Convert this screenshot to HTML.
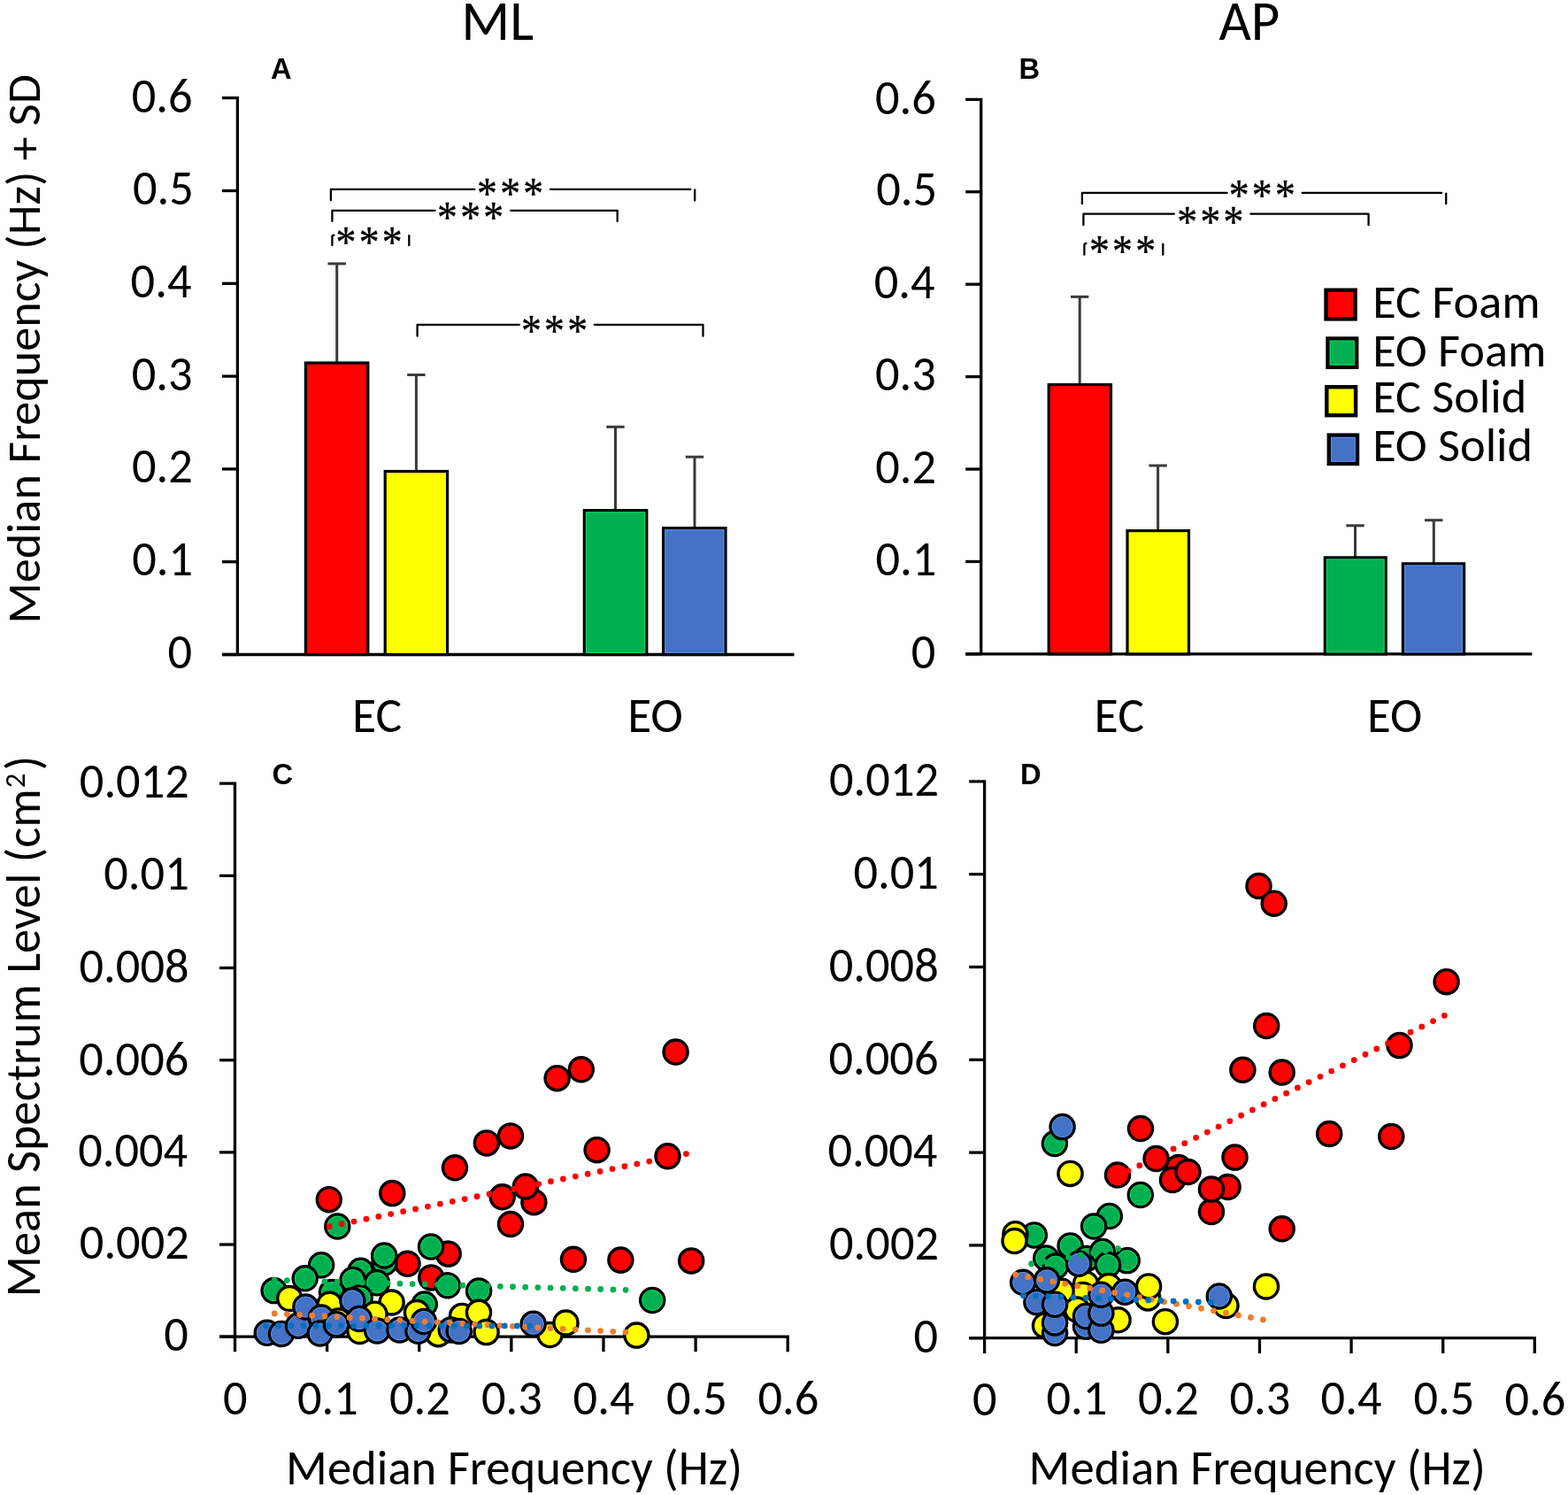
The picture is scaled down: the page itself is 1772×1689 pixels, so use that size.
<!DOCTYPE html>
<html><head><meta charset="utf-8"><title>Median frequency and mean spectrum level</title>
<style>html,body{margin:0;padding:0;background:#fff;overflow:hidden}svg{display:block}</style></head>
<body>
<svg width="1772" height="1689" viewBox="0 0 1772 1689">
<rect width="1772" height="1689" fill="#fff"/>
<defs>
<g id="mr"><circle r="13.55" fill="#FF0000" stroke="#000" stroke-width="3.4"/></g>
<g id="mg"><circle r="13.55" fill="#00B050" stroke="#000" stroke-width="3.4"/><circle r="11.45" fill="none" stroke="#00E060" stroke-width="1"/></g>
<g id="my"><circle r="13.55" fill="#FFFF00" stroke="#000" stroke-width="3.4"/></g>
<g id="mb"><circle r="13.55" fill="#4472C4" stroke="#000" stroke-width="3.4"/><circle r="11.45" fill="none" stroke="#5E93F0" stroke-width="1"/></g>
</defs>
<path d="M251 110.7H268.4V739.5" fill="none" stroke="#000" stroke-width="3.3" stroke-linejoin="miter"/>
<line x1="251" y1="739.5" x2="268.4" y2="739.5" stroke="#000" stroke-width="3.3"/>
<line x1="251" y1="634.7" x2="268.4" y2="634.7" stroke="#000" stroke-width="3.3"/>
<line x1="251" y1="529.9" x2="268.4" y2="529.9" stroke="#000" stroke-width="3.3"/>
<line x1="251" y1="425.1" x2="268.4" y2="425.1" stroke="#000" stroke-width="3.3"/>
<line x1="251" y1="320.3" x2="268.4" y2="320.3" stroke="#000" stroke-width="3.3"/>
<line x1="251" y1="215.5" x2="268.4" y2="215.5" stroke="#000" stroke-width="3.3"/>
<line x1="251" y1="739.5" x2="897.5" y2="739.5" stroke="#000" stroke-width="3.3"/>
<line x1="380.7" y1="410" x2="380.7" y2="297.9" stroke="#3A3A3A" stroke-width="3"/>
<line x1="370.5" y1="297.9" x2="390.9" y2="297.9" stroke="#3A3A3A" stroke-width="3"/>
<rect x="345.4" y="410" width="70.4" height="329.5" fill="#FF0000" stroke="#000" stroke-width="3.2"/>
<line x1="470.4" y1="532.5" x2="470.4" y2="423.5" stroke="#3A3A3A" stroke-width="3"/>
<line x1="460.2" y1="423.5" x2="480.6" y2="423.5" stroke="#3A3A3A" stroke-width="3"/>
<rect x="435.2" y="532.5" width="70.4" height="207" fill="#FFFF00" stroke="#000" stroke-width="3.2"/>
<line x1="695.5" y1="576.6" x2="695.5" y2="482.3" stroke="#3A3A3A" stroke-width="3"/>
<line x1="685.3" y1="482.3" x2="705.7" y2="482.3" stroke="#3A3A3A" stroke-width="3"/>
<rect x="660.3" y="576.6" width="70.5" height="162.9" fill="#00B050" stroke="#000" stroke-width="3.2"/>
<rect x="662.4" y="578.7" width="66.3" height="158.7" fill="none" stroke="#00DC64" stroke-width="1"/>
<line x1="785" y1="596.6" x2="785" y2="516.2" stroke="#3A3A3A" stroke-width="3"/>
<line x1="774.8" y1="516.2" x2="795.2" y2="516.2" stroke="#3A3A3A" stroke-width="3"/>
<rect x="749.6" y="596.6" width="70.4" height="142.9" fill="#4472C4" stroke="#000" stroke-width="3.2"/>
<rect x="751.7" y="598.7" width="66.2" height="138.7" fill="none" stroke="#5A8EEC" stroke-width="1"/>
<path d="M1091.2 112.3H1108.7V738.9" fill="none" stroke="#000" stroke-width="3.3" stroke-linejoin="miter"/>
<line x1="1091.2" y1="738.9" x2="1108.7" y2="738.9" stroke="#000" stroke-width="3.3"/>
<line x1="1091.2" y1="634.47" x2="1108.7" y2="634.47" stroke="#000" stroke-width="3.3"/>
<line x1="1091.2" y1="530.03" x2="1108.7" y2="530.03" stroke="#000" stroke-width="3.3"/>
<line x1="1091.2" y1="425.6" x2="1108.7" y2="425.6" stroke="#000" stroke-width="3.3"/>
<line x1="1091.2" y1="321.17" x2="1108.7" y2="321.17" stroke="#000" stroke-width="3.3"/>
<line x1="1091.2" y1="216.73" x2="1108.7" y2="216.73" stroke="#000" stroke-width="3.3"/>
<line x1="1091.2" y1="738.9" x2="1731.4" y2="738.9" stroke="#000" stroke-width="3.3"/>
<line x1="1220.2" y1="434.6" x2="1220.2" y2="335.3" stroke="#3A3A3A" stroke-width="3"/>
<line x1="1210" y1="335.3" x2="1230.4" y2="335.3" stroke="#3A3A3A" stroke-width="3"/>
<rect x="1185.2" y="434.6" width="70.3" height="304.3" fill="#FF0000" stroke="#000" stroke-width="3.2"/>
<line x1="1308.6" y1="599.6" x2="1308.6" y2="526" stroke="#3A3A3A" stroke-width="3"/>
<line x1="1298.4" y1="526" x2="1318.8" y2="526" stroke="#3A3A3A" stroke-width="3"/>
<rect x="1274" y="599.6" width="69.5" height="139.3" fill="#FFFF00" stroke="#000" stroke-width="3.2"/>
<line x1="1531.5" y1="629.9" x2="1531.5" y2="593.8" stroke="#3A3A3A" stroke-width="3"/>
<line x1="1521.3" y1="593.8" x2="1541.7" y2="593.8" stroke="#3A3A3A" stroke-width="3"/>
<rect x="1497.3" y="629.9" width="68.9" height="109" fill="#00B050" stroke="#000" stroke-width="3.2"/>
<rect x="1499.4" y="632" width="64.7" height="104.8" fill="none" stroke="#00DC64" stroke-width="1"/>
<line x1="1620.3" y1="636.8" x2="1620.3" y2="587.7" stroke="#3A3A3A" stroke-width="3"/>
<line x1="1610.1" y1="587.7" x2="1630.5" y2="587.7" stroke="#3A3A3A" stroke-width="3"/>
<rect x="1585.4" y="636.8" width="69.2" height="102.1" fill="#4472C4" stroke="#000" stroke-width="3.2"/>
<rect x="1587.5" y="638.9" width="65" height="97.9" fill="none" stroke="#5A8EEC" stroke-width="1"/>
<rect x="1498.5" y="327.7" width="33.1" height="32.7" fill="#FF0000" stroke="#000" stroke-width="4.4"/>
<rect x="1500.5" y="382.5" width="32.7" height="32.3" fill="#00B050" stroke="#000" stroke-width="4.4"/>
<rect x="1503.2" y="385.2" width="27.3" height="26.9" fill="none" stroke="#00DC64" stroke-width="1"/>
<rect x="1499.3" y="437.2" width="32.8" height="32" fill="#FFFF00" stroke="#000" stroke-width="4.4"/>
<rect x="1501.8" y="491.6" width="32.2" height="32.3" fill="#4472C4" stroke="#000" stroke-width="4.4"/>
<rect x="1504.5" y="494.3" width="26.8" height="26.9" fill="none" stroke="#5A8EEC" stroke-width="1"/>
<path d="M373.9 226.2V213.8H536.3" fill="none" stroke="#000" stroke-width="2.3" stroke-linecap="round" stroke-linejoin="round"/>
<path d="M622 213.8H780.3" fill="none" stroke="#000" stroke-width="2.3" stroke-linecap="round" stroke-linejoin="round"/>
<path d="M785.2 214.5V226.5" fill="none" stroke="#000" stroke-width="2.3" stroke-linecap="round" stroke-linejoin="round"/>
<path d="M375.4 249.8V237.8H491.6" fill="none" stroke="#000" stroke-width="2.3" stroke-linecap="round" stroke-linejoin="round"/>
<path d="M577.3 237.8H697.7V250" fill="none" stroke="#000" stroke-width="2.3" stroke-linecap="round" stroke-linejoin="round"/>
<path d="M471.6 379.7V366.8H586.8" fill="none" stroke="#000" stroke-width="2.3" stroke-linecap="round" stroke-linejoin="round"/>
<path d="M671.8 366.8H794.5V379.7" fill="none" stroke="#000" stroke-width="2.3" stroke-linecap="round" stroke-linejoin="round"/>
<path d="M375.4 277V266.6Q375.6 265.8 377.4 265.6" fill="none" stroke="#000" stroke-width="2.3" stroke-linecap="round" stroke-linejoin="round"/>
<path d="M462.3 266.2V277.2" fill="none" stroke="#000" stroke-width="2.3" stroke-linecap="round" stroke-linejoin="round"/>
<path d="M1222.9 230.2V217.9H1386.6" fill="none" stroke="#000" stroke-width="2.3" stroke-linecap="round" stroke-linejoin="round"/>
<path d="M1471.7 217.9H1629.1" fill="none" stroke="#000" stroke-width="2.3" stroke-linecap="round" stroke-linejoin="round"/>
<path d="M1634.2 218.6V230.2" fill="none" stroke="#000" stroke-width="2.3" stroke-linecap="round" stroke-linejoin="round"/>
<path d="M1224.4 254.2V241.6H1327" fill="none" stroke="#000" stroke-width="2.3" stroke-linecap="round" stroke-linejoin="round"/>
<path d="M1413.3 241.6H1546.6V254.2" fill="none" stroke="#000" stroke-width="2.3" stroke-linecap="round" stroke-linejoin="round"/>
<path d="M1225.4 287.7V276.2Q1225.6 275.2 1227.4 275.0" fill="none" stroke="#000" stroke-width="2.3" stroke-linecap="round" stroke-linejoin="round"/>
<path d="M1314.3 276.0V287.7" fill="none" stroke="#000" stroke-width="2.3" stroke-linecap="round" stroke-linejoin="round"/>
<path d="M248 885.2H265.5V1510.2" fill="none" stroke="#000" stroke-width="3.3"/>
<line x1="248" y1="1510.2" x2="265.5" y2="1510.2" stroke="#000" stroke-width="3.3"/>
<line x1="248" y1="1406.03" x2="265.5" y2="1406.03" stroke="#000" stroke-width="3.3"/>
<line x1="248" y1="1301.87" x2="265.5" y2="1301.87" stroke="#000" stroke-width="3.3"/>
<line x1="248" y1="1197.7" x2="265.5" y2="1197.7" stroke="#000" stroke-width="3.3"/>
<line x1="248" y1="1093.53" x2="265.5" y2="1093.53" stroke="#000" stroke-width="3.3"/>
<line x1="248" y1="989.37" x2="265.5" y2="989.37" stroke="#000" stroke-width="3.3"/>
<path d="M248 1510.2H890.2V1527.2" fill="none" stroke="#000" stroke-width="3.3"/>
<line x1="265.5" y1="1510.2" x2="265.5" y2="1527.2" stroke="#000" stroke-width="3.3"/>
<line x1="369.62" y1="1510.2" x2="369.62" y2="1527.2" stroke="#000" stroke-width="3.3"/>
<line x1="473.74" y1="1510.2" x2="473.74" y2="1527.2" stroke="#000" stroke-width="3.3"/>
<line x1="577.86" y1="1510.2" x2="577.86" y2="1527.2" stroke="#000" stroke-width="3.3"/>
<line x1="681.98" y1="1510.2" x2="681.98" y2="1527.2" stroke="#000" stroke-width="3.3"/>
<line x1="786.1" y1="1510.2" x2="786.1" y2="1527.2" stroke="#000" stroke-width="3.3"/>
<path d="M1095.2 882.9H1112.6V1511.7" fill="none" stroke="#000" stroke-width="3.3"/>
<line x1="1095.2" y1="1511.7" x2="1112.6" y2="1511.7" stroke="#000" stroke-width="3.3"/>
<line x1="1095.2" y1="1406.9" x2="1112.6" y2="1406.9" stroke="#000" stroke-width="3.3"/>
<line x1="1095.2" y1="1302.1" x2="1112.6" y2="1302.1" stroke="#000" stroke-width="3.3"/>
<line x1="1095.2" y1="1197.3" x2="1112.6" y2="1197.3" stroke="#000" stroke-width="3.3"/>
<line x1="1095.2" y1="1092.5" x2="1112.6" y2="1092.5" stroke="#000" stroke-width="3.3"/>
<line x1="1095.2" y1="987.7" x2="1112.6" y2="987.7" stroke="#000" stroke-width="3.3"/>
<path d="M1095.2 1511.7H1734.3V1529" fill="none" stroke="#000" stroke-width="3.3"/>
<line x1="1112.6" y1="1511.7" x2="1112.6" y2="1529" stroke="#000" stroke-width="3.3"/>
<line x1="1216.22" y1="1511.7" x2="1216.22" y2="1529" stroke="#000" stroke-width="3.3"/>
<line x1="1319.84" y1="1511.7" x2="1319.84" y2="1529" stroke="#000" stroke-width="3.3"/>
<line x1="1423.46" y1="1511.7" x2="1423.46" y2="1529" stroke="#000" stroke-width="3.3"/>
<line x1="1527.08" y1="1511.7" x2="1527.08" y2="1529" stroke="#000" stroke-width="3.3"/>
<line x1="1630.7" y1="1511.7" x2="1630.7" y2="1529" stroke="#000" stroke-width="3.3"/>
<use href="#mr" x="371.8" y="1355.2"/>
<use href="#mr" x="443.3" y="1348.1"/>
<use href="#mr" x="514" y="1319.3"/>
<use href="#mr" x="549.9" y="1291.4"/>
<use href="#mr" x="577" y="1283.4"/>
<use href="#mr" x="629.6" y="1218.2"/>
<use href="#mr" x="656.8" y="1208.3"/>
<use href="#mr" x="763.6" y="1188.5"/>
<use href="#mr" x="674.6" y="1299.2"/>
<use href="#mr" x="754.5" y="1306.3"/>
<use href="#mr" x="567.7" y="1352.3"/>
<use href="#mr" x="603.4" y="1358.2"/>
<use href="#mr" x="593.9" y="1340.5"/>
<use href="#mr" x="577" y="1383"/>
<use href="#mr" x="648" y="1422.8"/>
<use href="#mr" x="701.4" y="1423.6"/>
<use href="#mr" x="781.2" y="1424.4"/>
<use href="#mr" x="506.7" y="1416.6"/>
<use href="#mr" x="460.5" y="1427.8"/>
<use href="#mr" x="487.3" y="1443.4"/>
<use href="#mg" x="381.3" y="1385.5"/>
<use href="#mg" x="363.1" y="1429.3"/>
<use href="#mg" x="344.7" y="1444.3"/>
<use href="#mg" x="309.6" y="1458.1"/>
<use href="#mg" x="375" y="1460"/>
<use href="#mg" x="407.5" y="1435.8"/>
<use href="#mg" x="434.5" y="1426.5"/>
<use href="#mg" x="434.2" y="1418.5"/>
<use href="#mg" x="398.6" y="1446"/>
<use href="#mg" x="426" y="1449.3"/>
<use href="#mg" x="406.7" y="1466.3"/>
<use href="#mg" x="487" y="1408.5"/>
<use href="#mg" x="505.9" y="1452.3"/>
<use href="#mg" x="479.7" y="1473.5"/>
<use href="#mg" x="541.1" y="1458.5"/>
<use href="#mg" x="737.2" y="1469"/>
<use href="#my" x="327.3" y="1467"/>
<use href="#my" x="372.5" y="1473.8"/>
<use href="#my" x="382.4" y="1492.4"/>
<use href="#my" x="403" y="1496"/>
<use href="#my" x="442.6" y="1471.5"/>
<use href="#my" x="471" y="1483"/>
<use href="#my" x="423.5" y="1484.7"/>
<use href="#my" x="406.5" y="1504"/>
<use href="#my" x="495.3" y="1507.2"/>
<use href="#my" x="522.1" y="1486.9"/>
<use href="#my" x="541" y="1482.8"/>
<use href="#my" x="549.6" y="1505.1"/>
<use href="#my" x="621.5" y="1508"/>
<use href="#my" x="639.5" y="1494.5"/>
<use href="#my" x="719.4" y="1508.6"/>
<use href="#mb" x="301.8" y="1505.8"/>
<use href="#mb" x="318" y="1507"/>
<use href="#mb" x="337" y="1497.8"/>
<use href="#mb" x="345.4" y="1476.5"/>
<use href="#mb" x="363.1" y="1488.5"/>
<use href="#mb" x="361.7" y="1506.5"/>
<use href="#mb" x="380" y="1496.2"/>
<use href="#mb" x="398.3" y="1469.3"/>
<use href="#mb" x="406" y="1490"/>
<use href="#mb" x="426.2" y="1503.5"/>
<use href="#mb" x="451.5" y="1502.5"/>
<use href="#mb" x="472.5" y="1503.8"/>
<use href="#mb" x="479" y="1493"/>
<use href="#mb" x="509.7" y="1502.4"/>
<use href="#mb" x="518.8" y="1504"/>
<use href="#mb" x="602.7" y="1495.8"/>
<use href="#mr" x="1422.5" y="1001"/>
<use href="#mr" x="1439.7" y="1020.7"/>
<use href="#mr" x="1634.6" y="1109.2"/>
<use href="#mr" x="1431.2" y="1159"/>
<use href="#mr" x="1581.5" y="1181.1"/>
<use href="#mr" x="1404.4" y="1208.8"/>
<use href="#mr" x="1448.7" y="1211.5"/>
<use href="#mr" x="1502.2" y="1281"/>
<use href="#mr" x="1572.3" y="1284"/>
<use href="#mr" x="1289" y="1275"/>
<use href="#mr" x="1263" y="1327.5"/>
<use href="#mr" x="1306.6" y="1309"/>
<use href="#mr" x="1331.8" y="1319"/>
<use href="#mr" x="1325" y="1333"/>
<use href="#mr" x="1342.5" y="1324"/>
<use href="#mr" x="1387.6" y="1341"/>
<use href="#mr" x="1369" y="1369"/>
<use href="#mr" x="1369" y="1343.5"/>
<use href="#mr" x="1395.5" y="1307.6"/>
<use href="#mr" x="1448.7" y="1388.3"/>
<use href="#mg" x="1191.9" y="1292"/>
<use href="#mg" x="1288.8" y="1350"/>
<use href="#mg" x="1253.8" y="1374"/>
<use href="#mg" x="1236.1" y="1385.5"/>
<use href="#mg" x="1168.8" y="1395.4"/>
<use href="#mg" x="1209.6" y="1407.4"/>
<use href="#mg" x="1182.2" y="1421.5"/>
<use href="#mg" x="1193" y="1430.6"/>
<use href="#mg" x="1228" y="1422"/>
<use href="#mg" x="1246" y="1414"/>
<use href="#mg" x="1273.7" y="1424.1"/>
<use href="#mg" x="1252" y="1429"/>
<use href="#my" x="1147.4" y="1394.2"/>
<use href="#my" x="1146.5" y="1402"/>
<use href="#my" x="1209.5" y="1325.9"/>
<use href="#my" x="1227" y="1450.5"/>
<use href="#my" x="1223.7" y="1462.9"/>
<use href="#my" x="1217" y="1479.5"/>
<use href="#my" x="1181" y="1497.7"/>
<use href="#my" x="1199.6" y="1458.8"/>
<use href="#my" x="1297.2" y="1466.4"/>
<use href="#my" x="1298.1" y="1453.4"/>
<use href="#my" x="1316.9" y="1493.2"/>
<use href="#my" x="1263.6" y="1491.3"/>
<use href="#my" x="1253" y="1453"/>
<use href="#my" x="1385.5" y="1475"/>
<use href="#my" x="1431" y="1453.5"/>
<use href="#mb" x="1200.6" y="1273.1"/>
<use href="#mb" x="1219.1" y="1427.7"/>
<use href="#mb" x="1156.1" y="1448.8"/>
<use href="#mb" x="1183" y="1446.3"/>
<use href="#mb" x="1171.4" y="1471.2"/>
<use href="#mb" x="1192.1" y="1506"/>
<use href="#mb" x="1192.1" y="1494.4"/>
<use href="#mb" x="1192.1" y="1473.7"/>
<use href="#mb" x="1227" y="1498.6"/>
<use href="#mb" x="1227" y="1487"/>
<use href="#mb" x="1244.4" y="1502.8"/>
<use href="#mb" x="1244.4" y="1483.6"/>
<use href="#mb" x="1244.4" y="1462.7"/>
<use href="#mb" x="1271.3" y="1459.7"/>
<use href="#mb" x="1377.8" y="1464.5"/>
<line x1="372.2" y1="1385.7" x2="775.5" y2="1303.6" stroke="#FF0000" stroke-width="6.8" stroke-linecap="round" stroke-dasharray="0 14.19"/>
<line x1="310.2" y1="1446.2" x2="721.2" y2="1457.7" stroke="#00B050" stroke-width="6.8" stroke-linecap="round" stroke-dasharray="0 14.18"/>
<line x1="310.2" y1="1484" x2="707" y2="1505.1" stroke="#ED7D31" stroke-width="6.8" stroke-linecap="round" stroke-dasharray="0 14.19"/>
<line x1="300.3" y1="1497.7" x2="598.8" y2="1498" stroke="#0070C0" stroke-width="6.8" stroke-linecap="round" stroke-dasharray="0 14.21"/>
<line x1="1275" y1="1323" x2="1632.4" y2="1147.3" stroke="#FF0000" stroke-width="6.8" stroke-linecap="round" stroke-dasharray="0 14.22"/>
<line x1="1165.6" y1="1427.7" x2="1277.5" y2="1408.3" stroke="#00B050" stroke-width="6.8" stroke-linecap="round" stroke-dasharray="0 14.2"/>
<line x1="1147.8" y1="1440.1" x2="1427.5" y2="1491" stroke="#ED7D31" stroke-width="6.8" stroke-linecap="round" stroke-dasharray="0 14.21"/>
<line x1="1156.5" y1="1463.7" x2="1368.5" y2="1471.5" stroke="#0070C0" stroke-width="6.8" stroke-linecap="round" stroke-dasharray="0 14.14"/>
<text textLength="81.94" lengthAdjust="spacingAndGlyphs" x="521.36" y="45.37" font-size="64.24" font-family="Carlito, 'Liberation Sans', sans-serif">ML</text>
<text textLength="68.81" lengthAdjust="spacingAndGlyphs" x="1377.49" y="44.91" font-size="62.83" font-family="Carlito, 'Liberation Sans', sans-serif">AP</text>
<text textLength="23.61" lengthAdjust="spacingAndGlyphs" x="305.98" y="88.7" font-size="32.7" font-family="'Liberation Sans', Arial, sans-serif" font-weight="bold">A</text>
<text textLength="23.61" lengthAdjust="spacingAndGlyphs" x="1151.6" y="88.83" font-size="32.7" font-family="'Liberation Sans', Arial, sans-serif" font-weight="bold">B</text>
<text textLength="23.61" lengthAdjust="spacingAndGlyphs" x="307.53" y="885.98" font-size="32.7" font-family="'Liberation Sans', Arial, sans-serif" font-weight="bold">C</text>
<text textLength="23.61" lengthAdjust="spacingAndGlyphs" x="1153.02" y="886.28" font-size="32.7" font-family="'Liberation Sans', Arial, sans-serif" font-weight="bold">D</text>
<text textLength="56.19" lengthAdjust="spacingAndGlyphs" x="397.9" y="827.05" font-size="55.65" font-family="Carlito, 'Liberation Sans', sans-serif">EC</text>
<text textLength="62.69" lengthAdjust="spacingAndGlyphs" x="709.13" y="826.92" font-size="55.24" font-family="Carlito, 'Liberation Sans', sans-serif">EO</text>
<text textLength="56.41" lengthAdjust="spacingAndGlyphs" x="1236.59" y="826.87" font-size="55.87" font-family="Carlito, 'Liberation Sans', sans-serif">EC</text>
<text textLength="62.14" lengthAdjust="spacingAndGlyphs" x="1545.07" y="826.51" font-size="54.76" font-family="Carlito, 'Liberation Sans', sans-serif">EO</text>
<text textLength="515.88" lengthAdjust="spacingAndGlyphs" x="323.12" y="1676.64" font-size="54.71" font-family="Carlito, 'Liberation Sans', sans-serif">Median Frequency (Hz)</text>
<text textLength="516.16" lengthAdjust="spacingAndGlyphs" x="1162.62" y="1676.85" font-size="54.74" font-family="Carlito, 'Liberation Sans', sans-serif">Median Frequency (Hz)</text>
<text textLength="620.73" lengthAdjust="spacingAndGlyphs" transform="translate(44.5 704.64) rotate(-90)" font-size="54.2" font-family="Carlito, 'Liberation Sans', sans-serif">Median Frequency (Hz) + SD</text>
<text textLength="27.58" lengthAdjust="spacingAndGlyphs" x="189.49" y="755.14" font-size="54.4" font-family="Carlito, 'Liberation Sans', sans-serif">0</text>
<text textLength="27.58" lengthAdjust="spacingAndGlyphs" x="1029.69" y="754.59" font-size="54.4" font-family="Carlito, 'Liberation Sans', sans-serif">0</text>
<text textLength="68.88" lengthAdjust="spacingAndGlyphs" x="149.23" y="650.21" font-size="54.4" font-family="Carlito, 'Liberation Sans', sans-serif">0.1</text>
<text textLength="68.88" lengthAdjust="spacingAndGlyphs" x="989.43" y="650.02" font-size="54.4" font-family="Carlito, 'Liberation Sans', sans-serif">0.1</text>
<text textLength="68.88" lengthAdjust="spacingAndGlyphs" x="148.96" y="545.41" font-size="54.4" font-family="Carlito, 'Liberation Sans', sans-serif">0.2</text>
<text textLength="68.88" lengthAdjust="spacingAndGlyphs" x="989.16" y="545.59" font-size="54.4" font-family="Carlito, 'Liberation Sans', sans-serif">0.2</text>
<text textLength="68.88" lengthAdjust="spacingAndGlyphs" x="148.69" y="440.61" font-size="54.4" font-family="Carlito, 'Liberation Sans', sans-serif">0.3</text>
<text textLength="68.88" lengthAdjust="spacingAndGlyphs" x="988.89" y="441.16" font-size="54.4" font-family="Carlito, 'Liberation Sans', sans-serif">0.3</text>
<text textLength="68.88" lengthAdjust="spacingAndGlyphs" x="147.6" y="335.81" font-size="54.4" font-family="Carlito, 'Liberation Sans', sans-serif">0.4</text>
<text textLength="68.88" lengthAdjust="spacingAndGlyphs" x="987.8" y="336.72" font-size="54.4" font-family="Carlito, 'Liberation Sans', sans-serif">0.4</text>
<text textLength="68.88" lengthAdjust="spacingAndGlyphs" x="150.05" y="231.01" font-size="54.4" font-family="Carlito, 'Liberation Sans', sans-serif">0.5</text>
<text textLength="68.88" lengthAdjust="spacingAndGlyphs" x="990.25" y="232.29" font-size="54.4" font-family="Carlito, 'Liberation Sans', sans-serif">0.5</text>
<text textLength="68.88" lengthAdjust="spacingAndGlyphs" x="148.69" y="127.02" font-size="54.4" font-family="Carlito, 'Liberation Sans', sans-serif">0.6</text>
<text textLength="68.88" lengthAdjust="spacingAndGlyphs" x="988.89" y="128.67" font-size="54.4" font-family="Carlito, 'Liberation Sans', sans-serif">0.6</text>
<text textLength="27.58" lengthAdjust="spacingAndGlyphs" x="185.29" y="1526.34" font-size="54.4" font-family="Carlito, 'Liberation Sans', sans-serif">0</text>
<text textLength="27.58" lengthAdjust="spacingAndGlyphs" x="1032.49" y="1527.69" font-size="54.4" font-family="Carlito, 'Liberation Sans', sans-serif">0</text>
<text textLength="124" lengthAdjust="spacingAndGlyphs" x="89.82" y="1422.04" font-size="54.4" font-family="Carlito, 'Liberation Sans', sans-serif">0.002</text>
<text textLength="124" lengthAdjust="spacingAndGlyphs" x="937.02" y="1422.76" font-size="54.4" font-family="Carlito, 'Liberation Sans', sans-serif">0.002</text>
<text textLength="124" lengthAdjust="spacingAndGlyphs" x="88.18" y="1317.87" font-size="54.4" font-family="Carlito, 'Liberation Sans', sans-serif">0.004</text>
<text textLength="124" lengthAdjust="spacingAndGlyphs" x="935.38" y="1317.96" font-size="54.4" font-family="Carlito, 'Liberation Sans', sans-serif">0.004</text>
<text textLength="124" lengthAdjust="spacingAndGlyphs" x="89.27" y="1214.52" font-size="54.4" font-family="Carlito, 'Liberation Sans', sans-serif">0.006</text>
<text textLength="124" lengthAdjust="spacingAndGlyphs" x="936.47" y="1213.97" font-size="54.4" font-family="Carlito, 'Liberation Sans', sans-serif">0.006</text>
<text textLength="124" lengthAdjust="spacingAndGlyphs" x="89.54" y="1110.49" font-size="54.4" font-family="Carlito, 'Liberation Sans', sans-serif">0.008</text>
<text textLength="124" lengthAdjust="spacingAndGlyphs" x="936.74" y="1109.31" font-size="54.4" font-family="Carlito, 'Liberation Sans', sans-serif">0.008</text>
<text textLength="96.44" lengthAdjust="spacingAndGlyphs" x="117.29" y="1005.37" font-size="54.4" font-family="Carlito, 'Liberation Sans', sans-serif">0.01</text>
<text textLength="96.44" lengthAdjust="spacingAndGlyphs" x="964.49" y="1003.56" font-size="54.4" font-family="Carlito, 'Liberation Sans', sans-serif">0.01</text>
<text textLength="124" lengthAdjust="spacingAndGlyphs" x="89.82" y="901.21" font-size="54.4" font-family="Carlito, 'Liberation Sans', sans-serif">0.012</text>
<text textLength="124" lengthAdjust="spacingAndGlyphs" x="937.02" y="898.76" font-size="54.4" font-family="Carlito, 'Liberation Sans', sans-serif">0.012</text>
<text textLength="27.58" lengthAdjust="spacingAndGlyphs" x="252.06" y="1597.64" font-size="54.4" font-family="Carlito, 'Liberation Sans', sans-serif">0</text>
<text textLength="27.58" lengthAdjust="spacingAndGlyphs" x="1099.06" y="1598.54" font-size="54.4" font-family="Carlito, 'Liberation Sans', sans-serif">0</text>
<text textLength="68.88" lengthAdjust="spacingAndGlyphs" x="336.06" y="1597.51" font-size="54.4" font-family="Carlito, 'Liberation Sans', sans-serif">0.1</text>
<text textLength="68.88" lengthAdjust="spacingAndGlyphs" x="1182.56" y="1598.41" font-size="54.4" font-family="Carlito, 'Liberation Sans', sans-serif">0.1</text>
<text textLength="68.88" lengthAdjust="spacingAndGlyphs" x="440.04" y="1597.51" font-size="54.4" font-family="Carlito, 'Liberation Sans', sans-serif">0.2</text>
<text textLength="68.88" lengthAdjust="spacingAndGlyphs" x="1286.04" y="1598.41" font-size="54.4" font-family="Carlito, 'Liberation Sans', sans-serif">0.2</text>
<text textLength="68.88" lengthAdjust="spacingAndGlyphs" x="544.02" y="1597.51" font-size="54.4" font-family="Carlito, 'Liberation Sans', sans-serif">0.3</text>
<text textLength="68.88" lengthAdjust="spacingAndGlyphs" x="1389.52" y="1598.41" font-size="54.4" font-family="Carlito, 'Liberation Sans', sans-serif">0.3</text>
<text textLength="68.88" lengthAdjust="spacingAndGlyphs" x="647.6" y="1597.51" font-size="54.4" font-family="Carlito, 'Liberation Sans', sans-serif">0.4</text>
<text textLength="68.88" lengthAdjust="spacingAndGlyphs" x="1492.6" y="1598.41" font-size="54.4" font-family="Carlito, 'Liberation Sans', sans-serif">0.4</text>
<text textLength="68.88" lengthAdjust="spacingAndGlyphs" x="752.94" y="1597.51" font-size="54.4" font-family="Carlito, 'Liberation Sans', sans-serif">0.5</text>
<text textLength="68.88" lengthAdjust="spacingAndGlyphs" x="1597.44" y="1598.41" font-size="54.4" font-family="Carlito, 'Liberation Sans', sans-serif">0.5</text>
<text textLength="68.88" lengthAdjust="spacingAndGlyphs" x="856.38" y="1598.32" font-size="54.4" font-family="Carlito, 'Liberation Sans', sans-serif">0.6</text>
<text textLength="68.88" lengthAdjust="spacingAndGlyphs" x="1700.38" y="1599.22" font-size="54.4" font-family="Carlito, 'Liberation Sans', sans-serif">0.6</text>
<text textLength="189.33" lengthAdjust="spacingAndGlyphs" x="1551.2" y="359.4" font-size="54.3" font-family="Carlito, 'Liberation Sans', sans-serif">EC Foam</text>
<text textLength="196.12" lengthAdjust="spacingAndGlyphs" x="1551.2" y="414.2" font-size="54.3" font-family="Carlito, 'Liberation Sans', sans-serif">EO Foam</text>
<text textLength="174.14" lengthAdjust="spacingAndGlyphs" x="1551.2" y="465.7" font-size="54.3" font-family="Carlito, 'Liberation Sans', sans-serif">EC Solid</text>
<text textLength="180.92" lengthAdjust="spacingAndGlyphs" x="1551.2" y="520.9" font-size="54.3" font-family="Carlito, 'Liberation Sans', sans-serif">EO Solid</text>
<g transform="translate(44.7 1465.45) rotate(-90)" font-family="Carlito, 'Liberation Sans', sans-serif"><text textLength="574.11" lengthAdjust="spacingAndGlyphs" x="0" y="0" font-size="54.4">Mean Spectrum Level (cm</text><text textLength="16.55" lengthAdjust="spacingAndGlyphs" x="575.2" y="-16.86" font-size="32.64">2</text><text textLength="16.5" lengthAdjust="spacingAndGlyphs" x="595.25" y="0" font-size="54.4">)</text></g>
<text textLength="88.98" lengthAdjust="spacingAndGlyphs" transform="translate(539.11 235.19) scale(0.88 0.96)" font-size="52" font-family="'Liberation Serif', 'Times New Roman', serif" letter-spacing="3.66" fill="#000" stroke="#000" stroke-width="0.45" stroke-linejoin="round">***</text>
<text textLength="88.98" lengthAdjust="spacingAndGlyphs" transform="translate(494.11 262.04) scale(0.88 0.96)" font-size="52" font-family="'Liberation Serif', 'Times New Roman', serif" letter-spacing="3.66" fill="#000" stroke="#000" stroke-width="0.45" stroke-linejoin="round">***</text>
<text textLength="88.98" lengthAdjust="spacingAndGlyphs" transform="translate(379.56 289.79) scale(0.88 0.96)" font-size="52" font-family="'Liberation Serif', 'Times New Roman', serif" letter-spacing="3.66" fill="#000" stroke="#000" stroke-width="0.45" stroke-linejoin="round">***</text>
<text textLength="88.98" lengthAdjust="spacingAndGlyphs" transform="translate(589.01 389.99) scale(0.88 0.96)" font-size="52" font-family="'Liberation Serif', 'Times New Roman', serif" letter-spacing="3.66" fill="#000" stroke="#000" stroke-width="0.45" stroke-linejoin="round">***</text>
<text textLength="88.98" lengthAdjust="spacingAndGlyphs" transform="translate(1388.76 236.59) scale(0.88 0.96)" font-size="52" font-family="'Liberation Serif', 'Times New Roman', serif" letter-spacing="3.66" fill="#000" stroke="#000" stroke-width="0.45" stroke-linejoin="round">***</text>
<text textLength="88.98" lengthAdjust="spacingAndGlyphs" transform="translate(1330.31 266.69) scale(0.88 0.96)" font-size="52" font-family="'Liberation Serif', 'Times New Roman', serif" letter-spacing="3.66" fill="#000" stroke="#000" stroke-width="0.45" stroke-linejoin="round">***</text>
<text textLength="88.98" lengthAdjust="spacingAndGlyphs" transform="translate(1231.01 300.34) scale(0.88 0.96)" font-size="52" font-family="'Liberation Serif', 'Times New Roman', serif" letter-spacing="3.66" fill="#000" stroke="#000" stroke-width="0.45" stroke-linejoin="round">***</text>
</svg>
</body></html>
